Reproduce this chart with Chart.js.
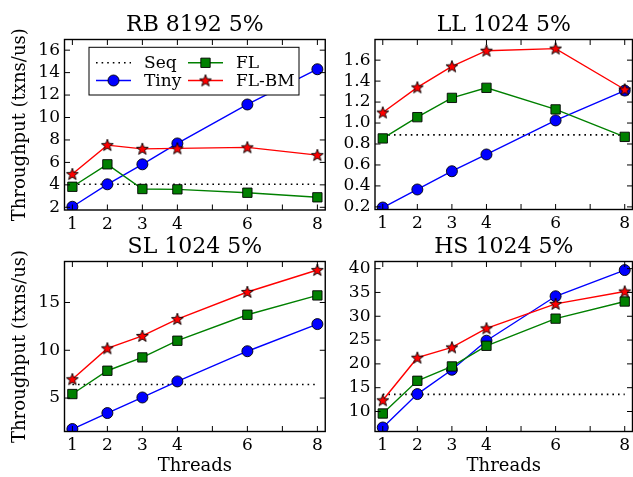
<!DOCTYPE html>
<html>
<head>
<meta charset="utf-8">
<script src="https://cdn.jsdelivr.net/npm/chart.js@4.4.1/dist/chart.umd.min.js"></script>
<style>
  html, body { margin: 0; padding: 0; background: #fff; width: 633px; height: 477px; overflow: hidden; }
  canvas { position: absolute; left: 0; top: 0; }
</style>
</head>
<body>
<canvas id="rb" width="640" height="477"></canvas>
<canvas id="ll" width="640" height="477"></canvas>
<canvas id="sl" width="640" height="477"></canvas>
<canvas id="hs" width="640" height="477"></canvas>
<script>
// thread counts on the x axis
const threads = [1, 2, 3, 4, 6, 8];
const xTickMarks = [1, 2, 3, 4, 5, 6, 7, 8];
const xTickLabels = [1, 2, 3, 4, 6, 8];
const seriesNames = ['Seq', 'Tiny', 'FL', 'FL-BM'];

// RB 8192 5%
const rbSeq = 4.05;
const rbTiny = [2.05, 4.05, 5.83, 7.69, 11.16, 14.3];
const rbFL = [3.83, 5.83, 3.63, 3.6, 3.3, 2.89];
const rbFLBM = [4.96, 7.54, 7.21, 7.25, 7.34, 6.65];
const rbYTicks = [2, 4, 6, 8, 10, 12, 14, 16];

// LL 1024 5%
const llSeq = 0.887;
const llTiny = [0.194, 0.366, 0.54, 0.70, 1.025, 1.31];
const llFL = [0.853, 1.056, 1.24, 1.336, 1.13, 0.868];
const llFLBM = [1.10, 1.34, 1.54, 1.69, 1.71, 1.32];
const llYTicks = [0.2, 0.4, 0.6, 0.8, 1.0, 1.2, 1.4, 1.6];

// SL 1024 5%
const slSeq = 6.42;
const slTiny = [1.76, 3.43, 5.06, 6.74, 9.9, 12.74];
const slFL = [5.42, 7.86, 9.25, 11.0, 13.72, 15.74];
const slFLBM = [6.97, 10.2, 11.5, 13.27, 16.1, 18.4];
const slYTicks = [5, 10, 15];

// HS 1024 5%
const hsSeq = 13.6;
const hsTiny = [6.64, 13.66, 18.77, 24.87, 34.2, 39.7];
const hsFL = [9.58, 16.45, 19.46, 23.8, 29.5, 33.1];
const hsFLBM = [12.35, 21.3, 23.46, 27.46, 32.6, 35.2];
const hsYTicks = [10, 15, 20, 25, 30, 35, 40];

const SERIF = "'DejaVu Serif', serif";
Chart.defaults.color = '#000';
Chart.defaults.font.family = SERIF;
Chart.defaults.animation = false;

const CW = 640, CH = 477;
const XMIN = 0.775, XMAX = 8.225;

// filled red star with black edge, used as the FL-BM marker
function makeStar() {
  const c = document.createElement('canvas');
  c.width = 16; c.height = 16;
  const g = c.getContext('2d');
  g.beginPath();
  for (let i = 0; i < 10; i++) {
    const r = i % 2 === 0 ? 6.3 : 2.6;
    const a = -Math.PI / 2 + i * Math.PI / 5;
    const px = 8 + r * Math.cos(a), py = 8.4 + r * Math.sin(a);
    if (i === 0) g.moveTo(px, py); else g.lineTo(px, py);
  }
  g.closePath();
  g.fillStyle = '#ff0000';
  g.fill();
  g.lineWidth = 0.9;
  g.strokeStyle = '#000';
  g.stroke();
  return c;
}
const starImg = makeStar();

// panel title centred over the plot box
const panelTitlePlugin = {
  id: 'panelTitle',
  afterDraw(chart, args, opts) {
    const { ctx, chartArea: a } = chart;
    ctx.save();
    ctx.font = '22px ' + SERIF;
    ctx.fillStyle = '#000';
    ctx.textAlign = 'center';
    ctx.textBaseline = 'alphabetic';
    ctx.fillText(opts.text, (a.left + a.right) / 2, a.top - 8.5);
    ctx.restore();
  }
};

// box with inward ticks on all four sides
const framePlugin = {
  id: 'frame',
  afterDatasetsDraw(chart) {
    const { ctx, chartArea: a, scales: { x, y } } = chart;
    const len = 5.5;
    ctx.save();
    ctx.strokeStyle = '#000';
    ctx.lineWidth = 1;
    ctx.beginPath();
    x.ticks.forEach(t => {
      const px = x.getPixelForValue(t.value);
      ctx.moveTo(px, a.bottom); ctx.lineTo(px, a.bottom - len);
      ctx.moveTo(px, a.top); ctx.lineTo(px, a.top + len);
    });
    y.ticks.forEach(t => {
      const py = y.getPixelForValue(t.value);
      ctx.moveTo(a.left, py); ctx.lineTo(a.left + len, py);
      ctx.moveTo(a.right, py); ctx.lineTo(a.right - len, py);
    });
    ctx.stroke();
    ctx.lineWidth = 1.4;
    ctx.strokeRect(a.left, a.top, a.right - a.left, a.bottom - a.top);
    ctx.restore();
  }
};

// two-column legend inside the first panel
const boxLegendPlugin = {
  id: 'boxLegend',
  afterDraw(chart, args, opts) {
    if (!opts || !opts.show) return;
    const { ctx, chartArea: a } = chart;
    const bx = a.left + opts.x, by = a.top + opts.y;
    ctx.save();
    ctx.fillStyle = '#fff';
    ctx.fillRect(bx, by, opts.w, opts.h);
    ctx.strokeStyle = '#000';
    ctx.lineWidth = 1;
    ctx.strokeRect(bx, by, opts.w, opts.h);
    const cols = [[0, 1], [2, 3]];
    const colX = [7, 99];
    const rowY = [15.5, 33.2];
    ctx.font = '17px ' + SERIF;
    ctx.textBaseline = 'middle';
    ctx.textAlign = 'left';
    cols.forEach((col, ci) => {
      col.forEach((di, ri) => {
        const ds = chart.data.datasets.find(d => d.label === seriesNames[di]);
        const x0 = bx + colX[ci], x1 = x0 + 35, yy = by + rowY[ri];
        ctx.save();
        ctx.strokeStyle = ds.borderColor;
        ctx.lineWidth = ds.borderWidth;
        ctx.setLineDash(ds.borderDash || []);
        ctx.beginPath();
        ctx.moveTo(x0, yy); ctx.lineTo(x1, yy);
        ctx.stroke();
        ctx.restore();
        if (ds.pointRadius > 0) {
          ctx.save();
          ctx.fillStyle = ds.pointBackgroundColor;
          ctx.strokeStyle = ds.pointBorderColor;
          ctx.lineWidth = ds.pointBorderWidth;
          Chart.helpers.drawPoint(ctx, {
            pointStyle: ds.pointStyle, radius: ds.pointRadius,
            borderWidth: ds.pointBorderWidth, rotation: 0
          }, (x0 + x1) / 2, yy);
          ctx.restore();
        }
        ctx.fillStyle = '#000';
        ctx.fillText(ds.label, x1 + 13, yy + 1);
      });
    });
    ctx.restore();
  }
};

function makeDatasets(seq, tiny, fl, flbm) {
  const pts = v => threads.map((t, i) => ({ x: t, y: v[i] }));
  return [
    {
      label: 'Seq', data: [{ x: threads[0], y: seq }, { x: threads[threads.length - 1], y: seq }],
      borderColor: '#000', borderWidth: 1.6, borderDash: [1.6, 4], pointRadius: 0, order: 4
    },
    {
      label: 'Tiny', data: pts(tiny), borderColor: '#0000ff', borderWidth: 1.4,
      pointStyle: 'circle', pointRadius: 5.5, pointBackgroundColor: '#0000ff',
      pointBorderColor: '#000', pointBorderWidth: 0.9, order: 3
    },
    {
      label: 'FL', data: pts(fl), borderColor: '#008000', borderWidth: 1.4,
      pointStyle: 'rect', pointRadius: 6.6, pointBackgroundColor: '#008000',
      pointBorderColor: '#000', pointBorderWidth: 0.9, order: 2
    },
    {
      label: 'FL-BM', data: pts(flbm), borderColor: '#ff0000', borderWidth: 1.4,
      pointStyle: starImg, pointRadius: 6, pointBackgroundColor: '#ff0000',
      pointBorderColor: '#000', pointBorderWidth: 0.9, order: 1
    }
  ].map(d => Object.assign({ clip: 0, tension: 0, fill: false }, d));
}

function panel(id, area, title, seq, tiny, fl, flbm, yMin, yMax, yTicks, fmt, showYTitle, showXTitle, legend) {
  return new Chart(document.getElementById(id), {
    type: 'line',
    data: { datasets: makeDatasets(seq, tiny, fl, flbm) },
    options: {
      responsive: false,
      devicePixelRatio: 1,
      events: [],
      layout: {
        padding: { left: 0, top: area.top, right: CW - area.right, bottom: 0 }
      },
      plugins: {
        legend: { display: false },
        tooltip: { enabled: false },
        title: { display: false },
        panelTitle: { text: title },
        boxLegend: legend || { show: false }
      },
      scales: {
        x: {
          type: 'linear', min: XMIN, max: XMAX,
          grid: { display: false, drawTicks: false },
          border: { display: false },
          afterBuildTicks: s => { s.ticks = xTickMarks.map(v => ({ value: v })); },
          afterFit: s => { s.height = CH - area.bottom; },
          ticks: {
            autoSkip: false, maxRotation: 0, padding: 4,
            font: { family: SERIF, size: 17 },
            callback: v => xTickLabels.includes(v) ? String(v) : ''
          },
          title: {
            display: showXTitle, text: 'Threads',
            font: { family: SERIF, size: 18, lineHeight: 1.2 },
            padding: { top: 0, bottom: 0 }
          }
        },
        y: {
          type: 'linear', min: yMin, max: yMax,
          grid: { display: false, drawTicks: false },
          border: { display: false },
          afterBuildTicks: s => { s.ticks = yTicks.map(v => ({ value: v })); },
          afterFit: s => { s.width = area.left; },
          ticks: {
            autoSkip: false, padding: 4.5,
            font: { family: SERIF, size: 17 },
            callback: fmt
          },
          title: {
            display: showYTitle, text: 'Throughput (txns/us)',
            font: { family: SERIF, size: 18, lineHeight: 1.2 },
            padding: { top: 9.2, bottom: 0 }
          }
        }
      }
    },
    plugins: [framePlugin, boxLegendPlugin, panelTitlePlugin]
  });
}

const intFmt = v => String(v);
const oneDec = v => v.toFixed(1);
const spanX = (XMAX - XMIN) * 35;

panel('rb', { left: 64.5, top: 39.5, right: 64.5 + spanX, bottom: 210 }, 'RB 8192 5%',
  rbSeq, rbTiny, rbFL, rbFLBM, 1.76, 16.95, rbYTicks, intFmt, true, false,
  { show: true, x: 24.5, y: 7.8, w: 210, h: 47.7 });
panel('ll', { left: 375, top: 39.5, right: 375 + spanX, bottom: 209.5 }, 'LL 1024 5%',
  llSeq, llTiny, llFL, llFLBM, 0.175, 1.797, llYTicks, oneDec, false, false);
panel('sl', { left: 64.5, top: 261.5, right: 64.5 + spanX, bottom: 431.5 }, 'SL 1024 5%',
  slSeq, slTiny, slFL, slFLBM, 1.5, 19.29, slYTicks, intFmt, true, true);
panel('hs', { left: 375, top: 261.5, right: 375 + spanX, bottom: 431.5 }, 'HS 1024 5%',
  hsSeq, hsTiny, hsFL, hsFLBM, 5.8, 41.5, hsYTicks, intFmt, false, true);
</script>
</body>
</html>
